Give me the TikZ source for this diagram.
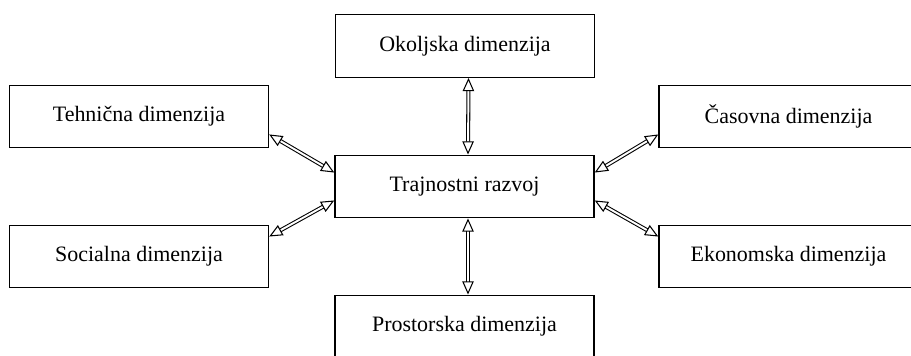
\documentclass[tikz,border=0pt]{standalone}
\usepackage{fontspec}
\setmainfont{Liberation Serif}
\usetikzlibrary{arrows.meta,positioning,calc}

\tikzset{
  dimbox/.style={draw, line width=0.8pt, minimum width=5.18cm, minimum height=1.25cm,
    inner sep=0pt, font=\fontsize{12.5}{15}\selectfont},
  link/.style={double, double distance=1.1pt, line width=0.6pt,
    {Triangle[open,length=7.5pt,width=6.5pt]}-{Triangle[open,length=7.5pt,width=6.5pt]}}
}

\begin{document}
\begin{tikzpicture}
  \useasboundingbox (0,0) rectangle (18.22,7.1);

  \node [dimbox] (razvoj) at (9.29,3.37) {Trajnostni razvoj};

  \node [dimbox] (okolje) at (9.30,6.18) {Okoljska dimenzija};
  \node [dimbox] (prostor) at (9.29,0.57) {Prostorska dimenzija};
  \node [dimbox] (tehnika) at (2.78,4.77) {Tehnična dimenzija};
  \node [dimbox] (social) at (2.78,1.97) {Socialna dimenzija};
  \node [dimbox] (cas) at (15.77,4.77) {Časovna dimenzija};
  \node [dimbox] (ekonomija) at (15.77,1.97) {Ekonomska dimenzija};

  % vertical links
  \draw [link] ([xshift=0.07cm]okolje.south) -- ([xshift=0.07cm]razvoj.north);
  \draw [link] ([xshift=0.07cm]razvoj.south) -- ([xshift=0.07cm]prostor.north);

  % diagonal links
  \draw [link] ([yshift=0.28cm]tehnika.south east) -- ([yshift=-0.36cm]razvoj.north west);
  \draw [link] ([yshift=-0.24cm]social.north east) -- ([yshift=0.36cm]razvoj.south west);
  \draw [link] ([yshift=-0.36cm]razvoj.north east) -- ([yshift=0.28cm]cas.south west);
  \draw [link] ([yshift=0.36cm]razvoj.south east) -- ([yshift=-0.24cm]ekonomija.north west);

\end{tikzpicture}
\end{document}
